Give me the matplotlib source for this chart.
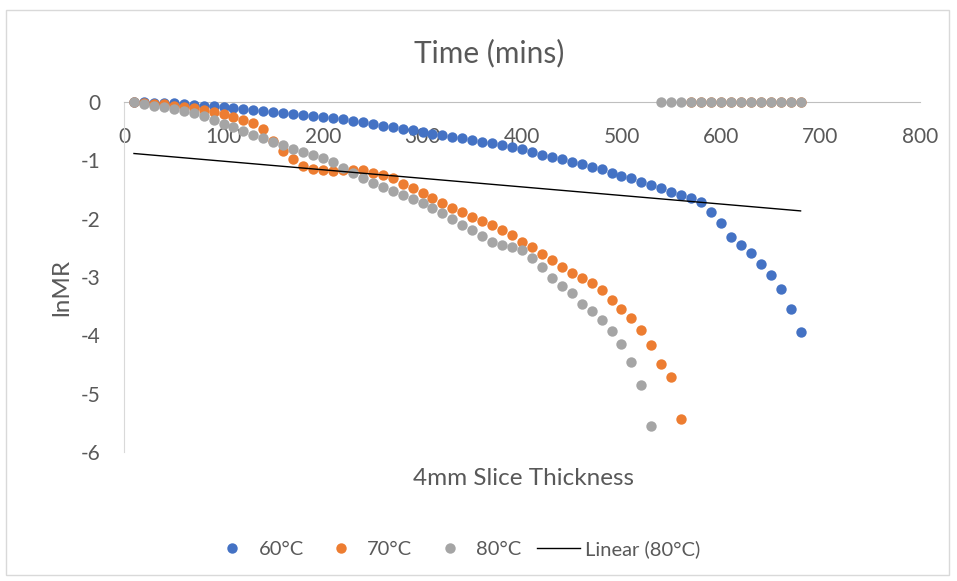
import matplotlib
matplotlib.use("Agg")
import matplotlib.pyplot as plt
from matplotlib.lines import Line2D
from matplotlib.patches import Rectangle
import numpy as np

plt.rcParams['font.family'] = ['Lato', 'DejaVu Sans']
plt.rcParams['axes.unicode_minus'] = False

# time (mins), one reading every 10 min
time = list(range(10, 690, 10))

# lnMR readings, 60 C
ln_60 = [0.00, -0.005, -0.01, -0.015, -0.02, -0.03, -0.045, -0.06, -0.075, -0.09,
         -0.11, -0.125, -0.14, -0.155, -0.17, -0.185, -0.20, -0.215, -0.235, -0.255,
         -0.275, -0.295, -0.32, -0.35, -0.38, -0.41, -0.43, -0.455, -0.48, -0.51,
         -0.54, -0.57, -0.60, -0.625, -0.65, -0.68, -0.71, -0.74, -0.77, -0.81,
         -0.86, -0.90, -0.94, -0.98, -1.02, -1.06, -1.11, -1.15, -1.21, -1.26,
         -1.31, -1.37, -1.43, -1.48, -1.54, -1.60, -1.65, -1.72, -1.88, -2.08,
         -2.32, -2.45, -2.58, -2.78, -2.96, -3.20, -3.55, -3.95]

# 70 C (blank cells after 560 min read as 0)
ln_70 = [0.00, -0.01, -0.03, -0.04, -0.06, -0.08, -0.10, -0.13, -0.17, -0.21,
         -0.26, -0.31, -0.36, -0.47, -0.66, -0.84, -0.98, -1.10, -1.15, -1.16,
         -1.18, -1.17, -1.16, -1.17, -1.21, -1.25, -1.31, -1.40, -1.48, -1.56,
         -1.65, -1.73, -1.81, -1.89, -1.97, -2.04, -2.11, -2.19, -2.28, -2.40,
         -2.48, -2.61, -2.71, -2.82, -2.93, -3.02, -3.11, -3.22, -3.40, -3.55,
         -3.71, -3.90, -4.17, -4.49, -4.71, -5.43,
         0, 0, 0, 0, 0, 0, 0, 0, 0, 0, 0, 0]

# 80 C (blank cells after 530 min read as 0)
ln_80 = [0.00, -0.03, -0.06, -0.09, -0.12, -0.15, -0.19, -0.24, -0.30, -0.37,
         -0.43, -0.50, -0.56, -0.62, -0.68, -0.74, -0.80, -0.85, -0.90, -0.96,
         -1.03, -1.13, -1.22, -1.30, -1.38, -1.45, -1.52, -1.59, -1.66, -1.73,
         -1.82, -1.90, -2.00, -2.10, -2.20, -2.30, -2.40, -2.45, -2.49, -2.54,
         -2.68, -2.82, -3.02, -3.16, -3.28, -3.46, -3.58, -3.74, -3.92, -4.15,
         -4.45, -4.85, -5.56,
         0, 0, 0, 0, 0, 0, 0, 0, 0, 0, 0, 0, 0, 0, 0]

series = [("60°C", ln_60, "#4472C4"), ("70°C", ln_70, "#ED7D31"), ("80°C", ln_80, "#A5A5A5")]
grey_txt = "#595959"

fig = plt.figure(figsize=(9.57, 5.81), dpi=100)
fig.patches.append(Rectangle((0.006, 0.01), 0.986, 0.973, transform=fig.transFigure,
                             fill=False, edgecolor="#D9D9D9", linewidth=1.0))
ax = fig.add_axes([0.1296, 0.222, 0.8317, 0.6024])

for name, vals, col in series:
    ax.scatter(time, vals, s=56, color=col, linewidths=0, clip_on=False, zorder=3)

# Excel style linear trendline on the 80 C column
k, b = np.polyfit(time, ln_80, 1)
t = np.array([time[0], time[-1]])
ax.plot(t, k * t + b, color="black", linewidth=1.0, zorder=4)

ax.set_xlim(0, 800)
ax.set_ylim(-6, 0)
ax.set_xticks(range(0, 900, 100))
ax.set_yticks(range(-6, 1))
for s in ["top", "right"]:
    ax.spines[s].set_visible(False)
ax.spines["bottom"].set_position(("data", 0))
ax.spines["bottom"].set_color("#BFBFBF")
ax.spines["left"].set_color("#D9D9D9")
ax.tick_params(axis="x", length=0, pad=18, labelsize=15, labelcolor=grey_txt)
ax.tick_params(axis="y", length=0, pad=17, labelsize=15, labelcolor=grey_txt)

fig.text(0.511, 0.908, "Time (mins)", ha="center", va="center", fontsize=21.5, color=grey_txt)
fig.text(0.5465, 0.177, "4mm Slice Thickness", ha="center", va="center", fontsize=17.5, color=grey_txt)
fig.text(0.0648, 0.506, "lnMR", ha="center", va="center", rotation=90, fontsize=17.5, color=grey_txt)

handles = [Line2D([], [], linestyle="none", marker="o", markersize=7.5, markeredgewidth=0,
                  color=c) for _, _, c in series]
handles.append(Line2D([], [], color="black", linewidth=1.0))
labels = [n for n, _, _ in series] + ["Linear (80°C)"]
leg = fig.legend(handles, labels, loc="center", bbox_to_anchor=(0.476, 0.055), ncol=4,
                 frameon=False, fontsize=14.5, handlelength=2.1, handletextpad=0.25,
                 columnspacing=0.8)
for txt in leg.get_texts():
    txt.set_color(grey_txt)

fig.savefig("out.png", dpi=100)
